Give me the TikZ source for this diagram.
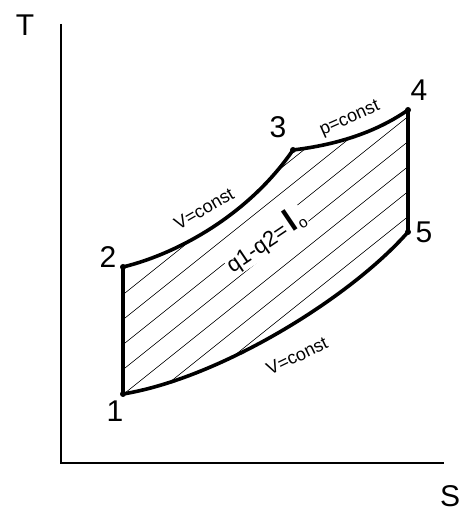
\documentclass[tikz,border=0pt]{standalone}
\usepackage{fontspec}
\setmainfont{Liberation Sans}
\begin{document}
\begin{tikzpicture}[x=1pt,y=1pt]
  % Parameters
  \def\hatchslope{0.8}
  \def\hatchgap{25}
  \def\hatchstart{120}

  % Styles
  \tikzset{
    axisline/.style={line width=2pt},
    cycleline/.style={line width=3.6pt, line join=round},
    hatchline/.style={line width=0.6pt},
    ptlabel/.style={font=\fontsize{30}{30}\selectfont, inner sep=0pt},
    curvelabel/.style={font=\fontsize{18}{18}\selectfont, inner sep=1pt},
    dot/.style={circle, fill, inner sep=0pt, minimum size=6pt}
  }

  \useasboundingbox (0,0) rectangle (462,513);

  % Axes
  \coordinate (origin) at (61,50);
  \coordinate (ytop) at (61,489);
  \coordinate (xend) at (444,50);
  \draw[axisline] (ytop) -- (origin) -- (xend);
  \node[ptlabel] (tlabel) at (25,488) {T};
  \node[ptlabel] (slabel) at (450,17) {S};

  % Cycle points
  \coordinate (p1) at (123,119);
  \coordinate (p2) at (123,246);
  \coordinate (p3) at (293,363);
  \coordinate (p4) at (408,403);
  \coordinate (p5) at (408,281);

  % Hatching inside the cycle
  \begin{scope}
    \clip (p1) -- (p2) .. controls (180,260) and (250,300) .. (p3)
      .. controls (335,368) and (375,380) .. (p4) -- (p5)
      .. controls (350,215) and (220,135) .. (p1) -- cycle;
    \foreach \k in {-14,...,8} {
      \draw[hatchline] (100,{100*\hatchslope+\hatchstart+\hatchgap*\k})
        -- (430,{430*\hatchslope+\hatchstart+\hatchgap*\k});
    }
  \end{scope}

  % Cycle
  \draw[cycleline] (p1) -- (p2) .. controls (180,260) and (250,300) .. (p3)
    .. controls (335,368) and (375,380) .. (p4) -- (p5)
    .. controls (350,215) and (220,135) .. (p1);
  \foreach \p in {p1,p2,p3,p4,p5} {
    \node[dot] at (\p) {};
  }

  % Point labels
  \node[ptlabel] (l1) at (115,102) {1};
  \node[ptlabel] (l2) at (108,256) {2};
  \node[ptlabel] (l3) at (278,386) {3};
  \node[ptlabel] (l4) at (419,423) {4};
  \node[ptlabel] (l5) at (424,281) {5};

  % Process labels
  \node[curvelabel, rotate=30] (v23) at (204,304) {V=const};
  \node[curvelabel, rotate=24] (p34) at (350,394) {p=const};
  \node[curvelabel, rotate=26] (v51) at (297,157) {V=const};
  \node[curvelabel, rotate=34, fill=white, font=\fontsize{22}{22}\selectfont] (work)
    at (265,273) {q1-q2=\,{\fontsize{32}{32}\selectfont\bfseries l}\textsubscript{o}};
\end{tikzpicture}
\end{document}
